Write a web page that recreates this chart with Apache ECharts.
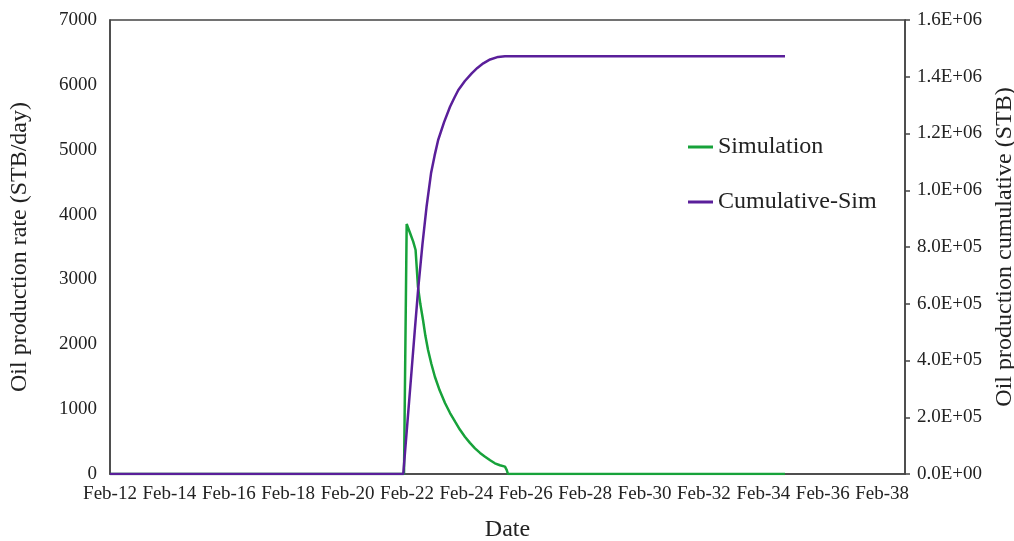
<!DOCTYPE html>
<html>
<head>
<meta charset="utf-8">
<script src="https://cdn.jsdelivr.net/npm/echarts@6/dist/echarts.min.js"></script>
<style>
  html, body { margin: 0; padding: 0; background: #fff; }
  #chart { width: 1014px; height: 541px; }
</style>
</head>
<body>
<div id="chart"></div>
<script>
// Day-of-month positions on the time axis and the tick labels drawn under it
const xTickLabels = ['Feb-12','Feb-14','Feb-16','Feb-18','Feb-20','Feb-22','Feb-24',
                     'Feb-26','Feb-28','Feb-30','Feb-32','Feb-34','Feb-36','Feb-38'];
const rightTickLabels = ['0.0E+00','2.0E+05','4.0E+05','6.0E+05','8.0E+05',
                         '1.0E+06','1.2E+06','1.4E+06','1.6E+06'];

// Simulated oil production rate (STB/day): [day, rate]
const simDays  = [12, 21.90, 21.99, 22.10, 22.21, 22.29, 22.37, 22.45, 22.54, 22.62, 22.71, 22.82,
                  22.94, 23.10, 23.28, 23.45, 23.62, 23.78, 23.95, 24.12, 24.29, 24.46, 24.63,
                  24.80, 24.96, 25.13, 25.30, 25.36, 25.40, 34.73];
const simRate  = [0, 0, 3855, 3720, 3582, 3454, 2888, 2620, 2374, 2130, 1912, 1700,
                  1500, 1290, 1095, 940, 806, 685, 575, 480, 396, 325, 267,
                  212, 165, 135, 113, 60, 0, 0];

// Simulated cumulative oil production (STB): [day, cumulative]
const cumDays  = [12, 21.875, 22.02, 22.16, 22.27, 22.38, 22.52, 22.66, 22.81, 22.93, 23.05,
                  23.25, 23.45, 23.60, 23.73, 23.95, 24.18, 24.37, 24.57, 24.80, 25.07, 25.30, 34.73];
const cumValue = [0, 0, 188000, 370000, 515000, 655000, 808000, 942000, 1059700, 1122000, 1177100,
                  1240000, 1294500, 1327000, 1353300, 1385000, 1412100, 1431000, 1447400, 1461000,
                  1470000, 1472500, 1472500];

const serif = 'Liberation Serif, Times New Roman, serif';

const chart = echarts.init(document.getElementById('chart'));
chart.setOption({
  animation: false,
  backgroundColor: '#fff',
  textStyle: { fontFamily: serif, color: '#222' },
  grid: {
    left: 110, right: 109, top: 20, bottom: 67,
    containLabel: false, outerBoundsMode: 'none',
    show: true, borderColor: '#444', borderWidth: 1.5, backgroundColor: 'transparent'
  },
  legend: {
    orient: 'vertical',
    left: 683, top: 130,
    itemGap: 31,
    itemWidth: 25, itemHeight: 3,
    icon: 'rect',
    textStyle: { fontFamily: serif, fontSize: 24, color: '#222' },
    data: ['Simulation', 'Cumulative-Sim']
  },
  xAxis: {
    type: 'value',
    min: 12, max: 38.77, interval: 2,
    name: 'Date', nameLocation: 'middle', nameGap: 44,
    nameTextStyle: { fontFamily: serif, fontSize: 24, color: '#222' },
    axisLine: { lineStyle: { color: '#444', width: 1.5 } },
    axisTick: { show: false },
    splitLine: { show: false },
    axisLabel: {
      fontFamily: serif, fontSize: 19, color: '#222', margin: 11,
      showMaxLabel: false,
      formatter: v => {
        const i = Math.round((v - 12) / 2);
        return (Math.abs(v - (12 + 2 * i)) < 1e-6 && xTickLabels[i]) ? xTickLabels[i] : '';
      }
    }
  },
  yAxis: [
    {
      type: 'value', min: 0, max: 7000, interval: 1000,
      name: 'Oil production rate (STB/day)', nameLocation: 'middle', nameGap: 78,
      nameTextStyle: { fontFamily: serif, fontSize: 24, color: '#222' },
      axisLine: { show: true, lineStyle: { color: '#444', width: 1.5 } },
      axisTick: { show: false },
      splitLine: { show: false },
      axisLabel: { fontFamily: serif, fontSize: 19, color: '#222', margin: 13, formatter: v => String(v) }
    },
    {
      type: 'value', min: 0, max: 1600000, interval: 200000,
      position: 'right',
      name: 'Oil production cumulative (STB)', nameLocation: 'middle', nameGap: 83, nameRotate: 90,
      nameTextStyle: { fontFamily: serif, fontSize: 24, color: '#222' },
      axisLine: { show: true, lineStyle: { color: '#444', width: 1.5 } },
      axisTick: { show: true, inside: false, length: 5, lineStyle: { color: '#444', width: 1.5 } },
      splitLine: { show: false },
      axisLabel: {
        fontFamily: serif, fontSize: 19, color: '#222', margin: 12,
        formatter: v => rightTickLabels[Math.round(v / 200000)]
      }
    }
  ],
  series: [
    {
      name: 'Simulation', type: 'line', yAxisIndex: 0,
      data: simDays.map((d, i) => [d, simRate[i]]),
      showSymbol: false, symbol: 'none',
      lineStyle: { color: '#17a23a', width: 2.5 },
      itemStyle: { color: '#17a23a' },
      z: 2
    },
    {
      name: 'Cumulative-Sim', type: 'line', yAxisIndex: 1,
      data: cumDays.map((d, i) => [d, cumValue[i]]),
      showSymbol: false, symbol: 'none',
      lineStyle: { color: '#5a1f9a', width: 2.5 },
      itemStyle: { color: '#5a1f9a' },
      z: 3
    }
  ]
});
</script>
</body>
</html>
